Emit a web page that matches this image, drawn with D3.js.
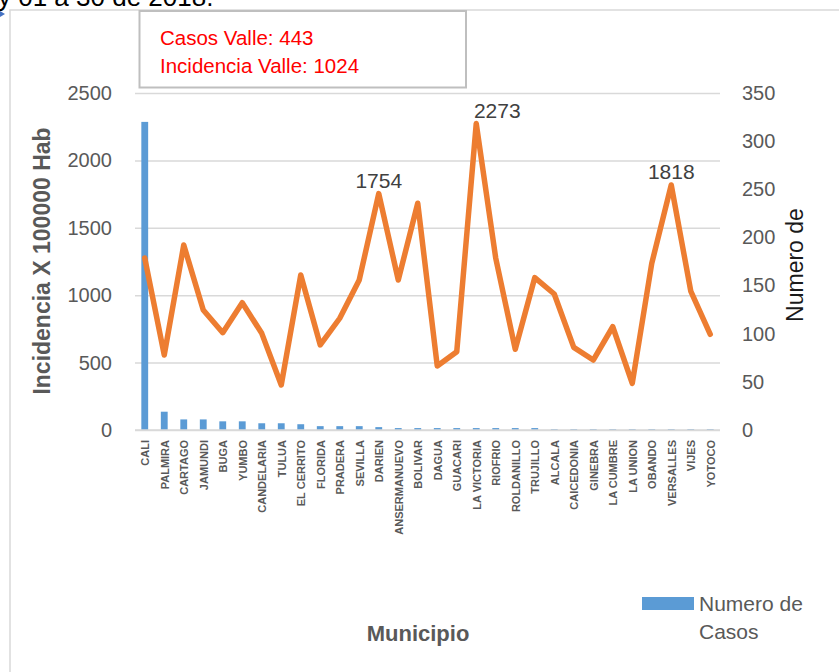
<!DOCTYPE html>
<html>
<head>
<meta charset="utf-8">
<script src="https://cdn.jsdelivr.net/npm/d3@7"></script>
<style>
  body { margin: 0; background: #fff; }
  svg { display: block; }
  text { font-family: "Liberation Sans", Arial, sans-serif; }
</style>
</head>
<body>
<svg id="chart" width="839" height="672"></svg>
<script>
// Municipios del Valle, casos notificados e incidencia por 100.000 habitantes
const municipios = ["CALI", "PALMIRA", "CARTAGO", "JAMUNDI", "BUGA", "YUMBO", "CANDELARIA", "TULUA",
  "EL CERRITO", "FLORIDA", "PRADERA", "SEVILLA", "DARIEN", "ANSERMANUEVO", "BOLIVAR", "DAGUA",
  "GUACARI", "LA VICTORIA", "RIOFRIO", "ROLDANILLO", "TRUJILLO", "ALCALA", "CAICEDONIA", "GINEBRA",
  "LA CUMBRE", "LA UNION", "OBANDO", "VERSALLES", "VIJES", "YOTOCO"];
const casos = [320, 19, 11, 11, 9, 9, 7, 7, 6, 4, 4, 4, 3, 2, 2, 2,
  2, 2, 2, 2, 2, 1, 1, 1, 1, 1, 1, 1, 1, 1];
const incidencia = [1276, 556, 1372, 890, 722, 944, 717, 334, 1150, 631, 829, 1113, 1754, 1113, 1682, 475,
  581, 2273, 1274, 599, 1130, 1009, 613, 519, 766, 346, 1236, 1818, 1031, 710];
const municipiosEtiquetados = ["DARIEN", "LA VICTORIA", "VERSALLES"];
const ticksIncidencia = [0, 500, 1000, 1500, 2000, 2500];
const ticksCasos = [0, 50, 100, 150, 200, 250, 300, 350];
const casosValle = 443;
const incidenciaValle = 1024;

const svg = d3.select("#chart");
const W = 839, H = 672;
const plot = { left: 135, right: 720, top: 93, bottom: 430 };
const gris = "#595959", rejilla = "#d9d9d9";
const azul = "#5B9BD5", naranja = "#ED7D31";

svg.append("rect").attr("width", W).attr("height", H).attr("fill", "#fff");

// Encabezado del documento (recortado en el borde superior)
svg.append("text").attr("x", -2).attr("y", 6)
  .attr("font-size", 26).attr("fill", "#000")
  .text("y 01 a 30 de 2018.");
svg.append("path").attr("d", "M0,11 L5,14 L0,17 Z").attr("fill", "#4472C4");

// Marco del área del gráfico
svg.append("path")
  .attr("d", `M10,${H} L10,10 L${W},10`)
  .attr("fill", "none").attr("stroke", rejilla).attr("stroke-width", 1.5);

// Escalas
const x = d3.scalePoint().domain(municipios).range([plot.left, plot.right]).padding(0.5);
const yInc = d3.scaleLinear().domain([0, 2500]).range([plot.bottom, plot.top]);
const yCasos = d3.scaleLinear().domain([0, 350]).range([plot.bottom, plot.top]);
const paso = x.step();
const anchoBarra = paso * 0.35;

// Eje izquierdo con líneas de rejilla
const ejeIzq = svg.append("g").attr("transform", `translate(${plot.left},0)`)
  .call(d3.axisLeft(yInc).tickValues(ticksIncidencia)
    .tickSize(-(plot.right - plot.left)).tickPadding(23).tickFormat(d3.format("d")));
ejeIzq.select(".domain").remove();
ejeIzq.selectAll(".tick line").attr("stroke", rejilla).attr("stroke-width", 1.5);
ejeIzq.selectAll(".tick text").attr("fill", gris).attr("font-size", 20)
  .attr("font-family", "Liberation Sans, Arial, sans-serif");

// Eje derecho
const ejeDer = svg.append("g").attr("transform", `translate(${plot.right},0)`)
  .call(d3.axisRight(yCasos).tickValues(ticksCasos).tickSize(0).tickPadding(22).tickFormat(d3.format("d")));
ejeDer.select(".domain").remove();
ejeDer.selectAll(".tick text").attr("fill", gris).attr("font-size", 20)
  .attr("font-family", "Liberation Sans, Arial, sans-serif");

// Barras: número de casos
svg.append("g").selectAll("rect")
  .data(municipios.map((m, i) => ({ m, v: casos[i] })))
  .join("rect")
  .attr("x", d => x(d.m) - anchoBarra / 2)
  .attr("width", anchoBarra)
  .attr("y", d => yCasos(d.v))
  .attr("height", d => yCasos(0) - yCasos(d.v))
  .attr("fill", azul);

// Eje de categorías
const ejeX = svg.append("g").attr("transform", `translate(0,${plot.bottom})`)
  .call(d3.axisBottom(x).tickSize(0));
ejeX.select(".domain").attr("stroke", rejilla).attr("stroke-width", 1.5)
  .attr("d", `M${plot.left},0H${plot.right}`);
ejeX.selectAll(".tick text")
  .attr("transform", "rotate(-90)")
  .attr("x", -10).attr("y", 0).attr("dy", "0.35em")
  .style("text-anchor", "end")
  .attr("fill", gris).attr("font-size", 11).attr("font-weight", "bold")
  .attr("font-family", "Liberation Sans, Arial, sans-serif");

// Línea: incidencia
const puntos = municipios.map((m, i) => ({ m, v: incidencia[i] }));
svg.append("path")
  .datum(puntos)
  .attr("fill", "none").attr("stroke", naranja).attr("stroke-width", 5.5)
  .attr("stroke-linejoin", "round").attr("stroke-linecap", "round")
  .attr("d", d3.line().x(d => x(d.m)).y(d => yInc(d.v)));

// Etiquetas de los picos
svg.append("g").selectAll("text")
  .data(puntos.filter(d => municipiosEtiquetados.includes(d.m)))
  .join("text")
  .attr("x", d => x(d.m) + (d.m === "LA VICTORIA" ? 21 : 0))
  .attr("y", d => yInc(d.v) - 6)
  .attr("text-anchor", "middle")
  .attr("font-size", 21).attr("fill", "#404040")
  .text(d => d.v);

// Cuadro de totales del departamento
svg.append("rect").attr("x", 139.5).attr("y", 11).attr("width", 326.5).attr("height", 76.5)
  .attr("fill", "#fff").attr("stroke", "#bfbfbf").attr("stroke-width", 2);
svg.append("text").attr("x", 160).attr("y", 44.5).attr("font-size", 20.5).attr("fill", "#ff0000")
  .text(`Casos Valle: ${casosValle}`);
svg.append("text").attr("x", 160).attr("y", 73).attr("font-size", 20.5).attr("fill", "#ff0000")
  .text(`Incidencia Valle: ${incidenciaValle}`);

// Títulos de los ejes
svg.append("text")
  .attr("transform", "translate(42,261) rotate(-90)")
  .attr("text-anchor", "middle").attr("dy", "0.35em")
  .attr("font-size", 23).attr("font-weight", "bold").attr("fill", gris)
  .text("Incidencia X 100000 Hab");
svg.append("text")
  .attr("transform", "translate(795,265) rotate(-90)")
  .attr("text-anchor", "middle").attr("dy", "0.35em")
  .attr("font-size", 23).attr("fill", "#1a1a1a")
  .text("Numero de");
svg.append("text")
  .attr("x", 418).attr("y", 641)
  .attr("text-anchor", "middle")
  .attr("font-size", 22).attr("font-weight", "bold").attr("fill", gris)
  .text("Municipio");

// Leyenda
svg.append("rect").attr("x", 642).attr("y", 597).attr("width", 52).attr("height", 13).attr("fill", azul);
svg.append("text").attr("x", 699).attr("y", 611).attr("font-size", 21).attr("fill", gris).text("Numero de");
svg.append("text").attr("x", 699).attr("y", 639).attr("font-size", 21).attr("fill", gris).text("Casos");
</script>
</body>
</html>
